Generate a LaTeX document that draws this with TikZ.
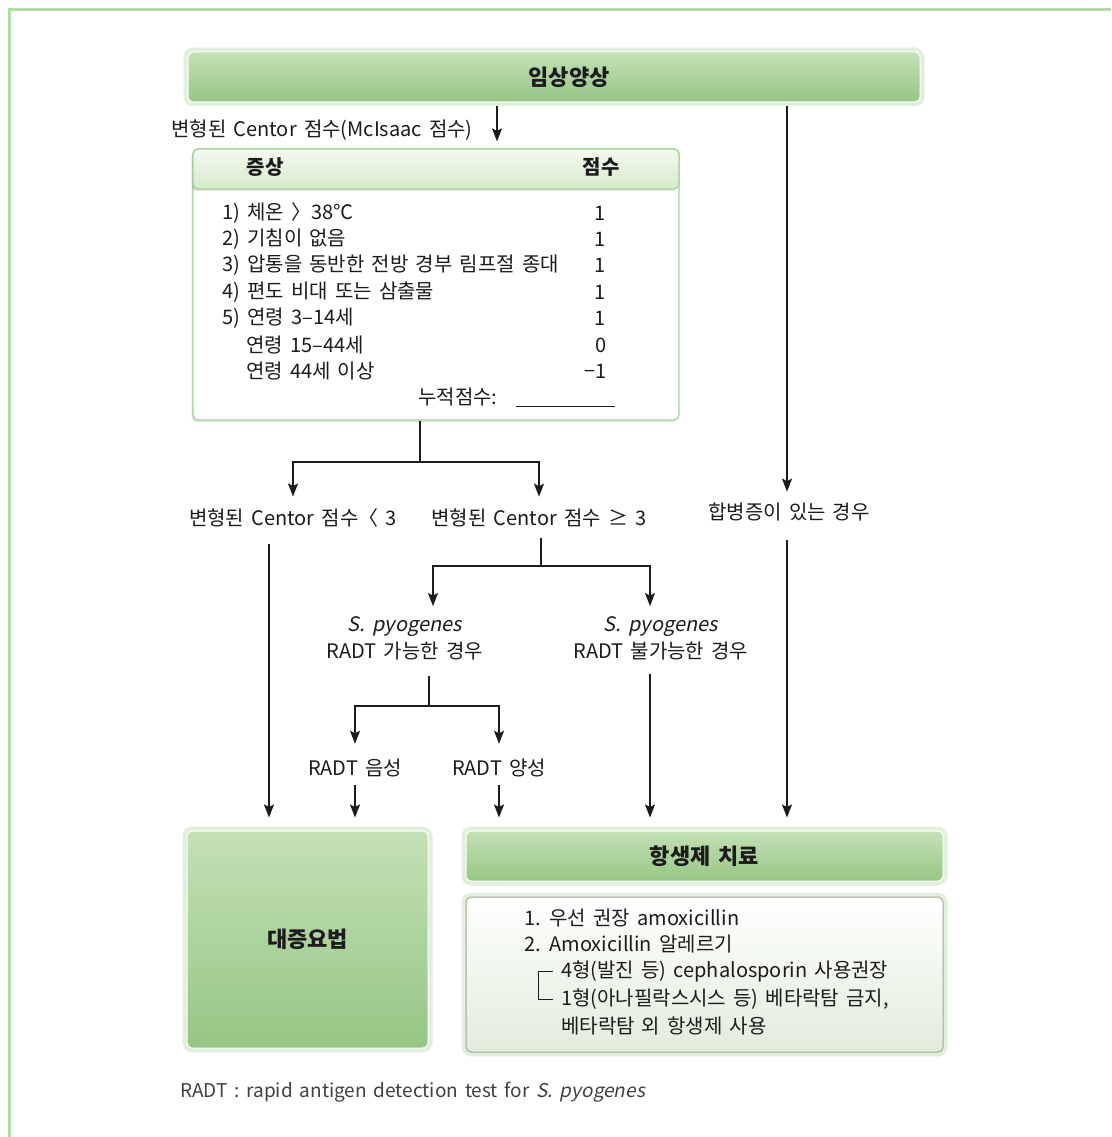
\documentclass[tikz,border=0pt]{standalone}
\usepackage{fontspec}
\setmainfont{Noto Sans CJK KR}[WordSpace=1.6]
\newfontfamily\slantfont[FakeSlant=0.2, WordSpace=1.6]{Noto Sans CJK KR}
\usetikzlibrary{arrows.meta,shadows}
\definecolor{gTop}{HTML}{C4E0B6}
\definecolor{gBot}{HTML}{96C684}
\definecolor{halo}{HTML}{E3EFDD}
\definecolor{tLine}{HTML}{A8D29A}
\definecolor{tTop}{HTML}{F4F9F1}
\definecolor{tBot}{HTML}{D6E9CC}
\definecolor{bord}{HTML}{B3DCA6}
\definecolor{cLine}{HTML}{A0A79C}
\definecolor{cBot}{HTML}{E2ECDB}
\definecolor{ink}{HTML}{1C1C1C}
\newcommand\fsbody{\fontsize{20}{27}\selectfont}
\newcommand\fstitle{\bfseries\fontsize{22}{26}\selectfont}
\tikzset{
  gbox/.style={rounded corners=5pt, top color=gTop, bottom color=gBot, draw=white, line width=1pt,
    preaction={draw=halo, line width=9pt}, inner sep=0pt, font=\fstitle, text=ink},
  cbox/.style={rounded corners=5pt, top color=white, bottom color=cBot, draw=cLine, line width=1pt,
    preaction={draw=halo, line width=9pt}, inner sep=0pt},
  tbox/.style={rounded corners=5pt, draw=tLine, line width=1.3pt, inner sep=0pt,
    drop shadow={shadow xshift=-1.5pt, shadow yshift=-2pt, opacity=0.22}},
  lbl/.style={font=\fsbody, inner sep=0pt, text=ink},
  lblw/.style={lbl, anchor=west},
  lble/.style={lbl, anchor=east},
  wire/.style={line width=1.4pt, ink},
  conn/.style={wire, -{Stealth[length=13pt,width=10pt,inset=2.5pt]}},
}
\begin{document}
\begin{tikzpicture}[x=1pt,y=-1pt]
\useasboundingbox (0,0) rectangle (1111,1137);
\fill[white] (0,0) rectangle (1111,1137);
% page frame (top and left)
\draw[bord, line width=3pt] (9.5,1137) -- (9.5,9.5) -- (1111,9.5);

% header
\node[gbox, minimum width=732pt, minimum height=50pt] (hdr) at (554,77) {};
\node[lbl, font=\fstitle] (hdrt) at (569,77) {임상양상};

\node[lbl] (mcl) at (322,130) {변형된 Centor 점수(McIsaac 점수)};

% score table
\node[tbox, fill=white, minimum width=486pt, minimum height=271pt] (tbody) at (436,284.5) {};
\node[tbox, top color=tTop, bottom color=tBot, minimum width=486pt, minimum height=40pt] (thead) at (436,169) {};
\node[lbl, font=\bfseries\fsbody] (hs) at (265,167) {증상};
\node[lbl, font=\bfseries\fsbody] (hp) at (601,167) {점수};

\node[lblw] (r1) at (222,213) {1) 체온 〉38℃};
\node[lblw] (r2) at (222,239) {2) 기침이 없음};
\node[lblw] (r3) at (222,265) {3) 압통을 동반한 전방 경부 림프절 종대};
\node[lblw] (r4) at (222,292) {4) 편도 비대 또는 삼출물};
\node[lblw] (r5) at (222,318) {5) 연령 3–14세};
\node[lblw] (r6) at (246,345) {연령 15–44세};
\node[lblw] (r7) at (246,371) {연령 44세 이상};
\node[lble] (p1) at (606,213) {1};
\node[lble] (p2) at (606,239) {1};
\node[lble] (p3) at (606,265) {1};
\node[lble] (p4) at (606,292) {1};
\node[lble] (p5) at (606,318) {1};
\node[lble] (p6) at (607,345) {0};
\node[lble] (p7) at (607,371) {−1};
\node[lblw] (cum) at (418,397) {누적점수:};
\draw[line width=1pt, ink] (516,406) -- (615,406);

% labels
\node[lbl] (lt3) at (293,518) {변형된 Centor 점수〈 3};
\node[lbl] (ge3) at (539,518) {변형된 Centor 점수 ≥ 3};
\node[lbl] (comp) at (789,512) {합병증이 있는 경우};
\node[lbl, align=center] (spya) at (405,638) {{\slantfont S. pyogenes}\\RADT 가능한 경우};
\node[lbl, align=center] (spyb) at (661,638) {{\slantfont S. pyogenes}\\RADT 불가능한 경우};
\node[lbl] (rneg) at (355,768) {RADT 음성};
\node[lbl] (rpos) at (499,768) {RADT 양성};

% bottom boxes
\node[gbox, minimum width=241pt, minimum height=217pt] (symp) at (307.5,939.5) {대증요법};
\node[gbox, minimum width=477pt, minimum height=50pt] (abx) at (704.5,856) {항생제 치료};
\node[cbox, minimum width=477pt, minimum height=155pt] (absc) at (704.5,974.5) {};
\node[lblw] (c1) at (524,918) {1. 우선 권장 amoxicillin};
\node[lblw] (c2) at (524,944) {2. Amoxicillin 알레르기};
\node[lblw] (c3) at (561,971) {4형(발진 등) cephalosporin 사용권장};
\node[lblw] (c4) at (561,999) {1형(아나필락스시스 등) 베타락탐 금지,};
\node[lblw] (c5) at (561,1026) {베타락탐 외 항생제 사용};
\draw[line width=1pt, ink] ([xshift=-8pt]c3.west) -- ([xshift=-23pt]c3.west) |- ([xshift=-8pt]c4.west);

% footnote
\node[lblw, text=black!75, font=\fontsize{19}{24}\selectfont] (fn) at (180,1092) {RADT : rapid antigen detection test for {\slantfont S. pyogenes}};

% connector helper coordinates
\coordinate (xA) at (497,0);
\coordinate (xB) at (787,0);
\coordinate (xL) at (269,0);
\coordinate (xC) at (433,0);
\coordinate (xD) at (650,0);
\coordinate (s1) at (420,462);
\coordinate (s2) at (541,566);
\coordinate (s3) at (429,706);

% connectors
\draw[conn, shorten <=4pt, shorten >=7pt] (hdr.south -| xA) -- (thead.north -| xA);
\draw[conn, shorten <=4pt, shorten >=11pt] (hdr.south -| xB) -- (comp.north -| xB);
\draw[wire] (tbody.south -| s1) -- (s1);
\draw[conn, shorten >=12pt] (s1) -| (lt3.north);
\draw[conn, shorten >=12pt] (s1) -| (ge3.north);
\draw[conn, shorten <=16pt, shorten >=13pt] (lt3.south -| xL) -- (symp.north -| xL);
\draw[wire, shorten <=11pt] (ge3.south -| s2) -- (s2);
\draw[conn, shorten >=10pt] (s2) -| (xC |- spya.north);
\draw[conn, shorten >=10pt] (s2) -| (xD |- spyb.north);
\draw[wire, shorten <=16pt] (spya.south -| s3) -- (s3);
\draw[conn, shorten >=15pt] (s3) -| (rneg.north);
\draw[conn, shorten >=15pt] (s3) -| (rpos.north);
\draw[conn, shorten <=8pt, shorten >=13pt] (rneg.south) -- (symp.north -| rneg.south);
\draw[conn, shorten <=8pt, shorten >=13pt] (rpos.south) -- (abx.north -| rpos.south);
\draw[conn, shorten <=14pt, shorten >=13pt] (spyb.south -| xD) -- (abx.north -| xD);
\draw[conn, shorten <=19pt, shorten >=13pt] (comp.south -| xB) -- (abx.north -| xB);
\end{tikzpicture}
\end{document}
